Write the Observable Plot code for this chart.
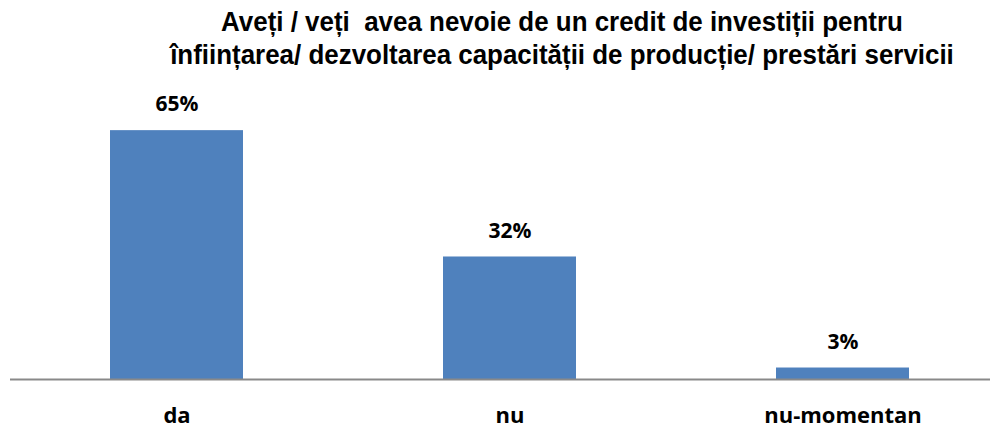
<!DOCTYPE html>
<html>
<head>
<meta charset="utf-8">
<script src="https://cdn.jsdelivr.net/npm/d3@7"></script>
<script src="https://cdn.jsdelivr.net/npm/@observablehq/plot@0.6"></script>
<style>
  html, body { margin: 0; padding: 0; background: #fff; }
  #wrap { width: 990px; height: 423px; overflow: hidden; position: relative; }
  #title {
    box-sizing: border-box;
    width: 990px; height: 85px;
    padding: 6px 0 0 134px;
    text-align: center;
    font-family: "Liberation Sans Narrow", "Arial Narrow", "Liberation Sans", sans-serif;
    font-weight: bold;
    font-size: 27px;
    line-height: 33px;
    color: #000;
    white-space: pre;
    transform: scaleX(0.96);
    transform-origin: 562px 0;
  }
  svg { display: block; }
</style>
</head>
<body>
<div id="wrap">
  <div id="title"></div>
  <div id="chart"></div>
</div>
<script>
const titleLines = [
  "Aveți / veți  avea nevoie de un credit de investiții pentru",
  "înființarea/ dezvoltarea capacității de producție/ prestări servicii"
];
const categories = ["da", "nu", "nu-momentan"];
const values = [65, 32, 3];
const valueLabels = ["65%", "32%", "3%"];

document.getElementById("title").textContent = titleLines.join("\n");

const data = categories.map((c, i) => ({cat: c, v: values[i], label: valueLabels[i]}));
const labelFont = "'Open Sans', 'Lato', sans-serif";

const chart = Plot.plot({
  width: 990,
  height: 338,
  marginLeft: 10,
  marginRight: 0,
  marginTop: 26,
  marginBottom: 44,
  x: {domain: categories, range: [10, 1009], paddingInner: 0.6, paddingOuter: 0.3, axis: null},
  y: {domain: [0, 70], axis: null},
  marks: [
    Plot.barY(data, {x: "cat", y: "v", fill: "#4F81BD"}),
    Plot.ruleY([0], {stroke: "#898989", strokeWidth: 2}),
    Plot.text(data, {x: "cat", y: "v", text: "label", dy: -26, lineAnchor: "middle",
      fontSize: 21, fontWeight: "bold", fill: "#000", fontFamily: labelFont}),
    Plot.text(data, {x: "cat", y: () => 0, text: "cat", dy: 36, lineAnchor: "middle",
      fontSize: 22, fontWeight: "bold", fill: "#000", fontFamily: labelFont})
  ]
});
chart.style.overflow = "visible";
document.getElementById("chart").appendChild(chart);
</script>
</body>
</html>
